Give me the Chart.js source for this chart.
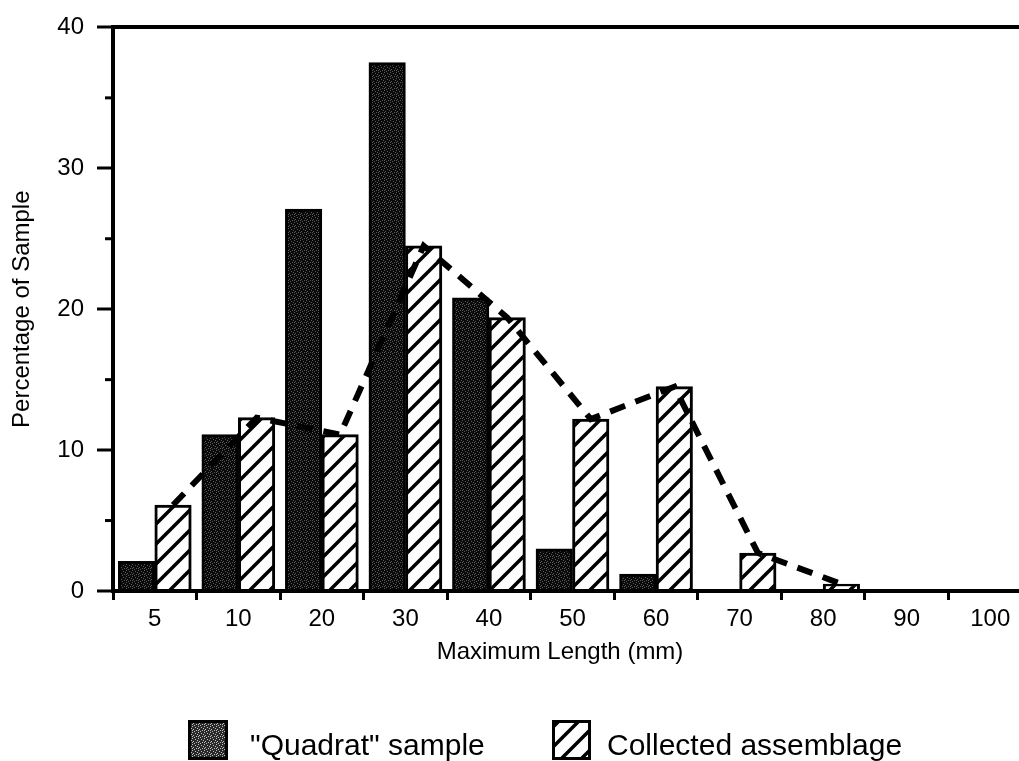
<!DOCTYPE html>
<html>
<head>
<meta charset="utf-8">
<script src="https://cdn.jsdelivr.net/npm/chart.js@4.4.1/dist/chart.umd.min.js"></script>
<style>
  html, body { margin: 0; padding: 0; background: #fff; overflow: hidden; }
  canvas { display: block; }
</style>
</head>
<body>
<canvas id="myChart" width="1034" height="761"></canvas>
<script>
// data (percent of sample per length class)
const lengths = ['5', '10', '20', '30', '40', '50', '60', '70', '80', '90', '100'];
const quadrat = [2.1, 11.1, 27.1, 37.5, 20.8, 3.0, 1.2, 0, 0, 0, 0];
const collected = [6.1, 12.3, 11.1, 24.5, 19.4, 12.2, 14.5, 2.7, 0.5, 0, 0];
const trend = [6.1, 12.3, 11.1, 24.5, 19.4, 12.2, 14.5, 2.7, 0.5, null, null];
const yMajor = [0, 10, 20, 30, 40];
const yMinor = [5, 15, 25, 35];

const FONT = "'Liberation Sans', Arial, Helvetica, sans-serif";
const catPct = 0.875;
const shift = catPct / 4; // centre of the right-hand bar, in category units
const barW = 36.5;

const canvas = document.getElementById('myChart');
const ctx = canvas.getContext('2d');

function stipple(base, dot) {
    const c = document.createElement('canvas');
    c.width = 6; c.height = 6;
    const g = c.getContext('2d');
    g.fillStyle = base;
    g.fillRect(0, 0, 6, 6);
    g.fillStyle = dot;
    [[0, 0], [3, 1], [1, 3], [4, 4], [2, 5], [5, 2], [0, 4]].forEach(function(p) {
        g.fillRect(p[0], p[1], 1, 1);
    });
    return ctx.createPattern(c, 'repeat');
}

function hatch() {
    const s = 20;
    const c = document.createElement('canvas');
    c.width = s; c.height = s;
    const g = c.getContext('2d');
    g.fillStyle = '#fff';
    g.fillRect(0, 0, s, s);
    g.strokeStyle = '#000';
    g.lineWidth = 3.5;
    g.beginPath();
    g.moveTo(-5, s + 5); g.lineTo(s + 5, -5);
    g.moveTo(-5, 5); g.lineTo(5, -5);
    g.moveTo(s - 5, s + 5); g.lineTo(s + 5, s - 5);
    g.stroke();
    return ctx.createPattern(c, 'repeat');
}

const darkFill = stipple('#0a0a0a', '#5a5a5a');
const legendDark = stipple('#2a2a2a', '#bdbdbd');
const hatchFill = hatch();

const extras = {
    id: 'extras',
    afterDraw: function(chart) {
        const c = chart.ctx;
        const y = chart.scales.y;
        c.save();
        // short minor ticks on the y axis
        c.strokeStyle = '#000';
        c.lineWidth = 3;
        yMinor.forEach(function(v) {
            const py = y.getPixelForValue(v);
            c.beginPath();
            c.moveTo(y.right - 8, py);
            c.lineTo(y.right, py);
            c.stroke();
        });

        // x axis title
        c.fillStyle = '#000';
        c.font = '24px ' + FONT;
        c.textAlign = 'center';
        c.textBaseline = 'alphabetic';
        c.fillText('Maximum Length (mm)', 560, 659);

        // legend
        c.textAlign = 'left';
        c.font = '30px ' + FONT;
        c.fillStyle = legendDark;
        c.fillRect(189, 721, 38, 38);
        c.strokeStyle = '#000';
        c.lineWidth = 3;
        c.strokeRect(189.5, 721.5, 37, 37);
        c.fillStyle = '#000';
        c.fillText('"Quadrat" sample', 250, 755);

        c.fillStyle = hatchFill;
        c.fillRect(553, 721, 37, 38);
        c.strokeRect(553.5, 721.5, 36, 37);
        c.fillStyle = '#000';
        c.fillText('Collected assemblage', 607, 755);
        c.restore();
    }
};

new Chart(ctx, {
    type: 'bar',
    data: {
        labels: lengths,
        datasets: [
            {
                type: 'line',
                label: 'trend',
                data: trend.map(function(v, i) { return { x: i, y: v }; }),
                xAxisID: 'xLine',
                borderColor: '#000',
                borderWidth: 6,
                borderDash: [16, 11],
                pointRadius: 0,
                tension: 0,
                fill: false,
                order: 0
            },
            {
                label: '"Quadrat" sample',
                data: quadrat,
                backgroundColor: darkFill,
                borderColor: '#000',
                borderWidth: 3,
                barThickness: barW,
                order: 1
            },
            {
                label: 'Collected assemblage',
                data: collected,
                backgroundColor: hatchFill,
                borderColor: '#000',
                borderWidth: 3,
                barThickness: barW,
                order: 1
            }
        ]
    },
    options: {
        responsive: false,
        animation: false,
        layout: { padding: { top: 21, right: 2, left: 0, bottom: 0 } },
        plugins: {
            legend: { display: false },
            tooltip: { enabled: false }
        },
        scales: {
            x: {
                type: 'category',
                offset: true,
                afterFit: function(s) { s.height = 170; },
                grid: {
                    offset: true,
                    drawOnChartArea: false,
                    tickLength: 9,
                    tickWidth: 3,
                    tickColor: '#000',
                    color: '#000'
                },
                border: { color: '#000', width: 4 },
                ticks: {
                    color: '#000',
                    font: { family: FONT, size: 24 },
                    padding: 5,
                    maxRotation: 0,
                    autoSkip: false
                }
            },
            xLine: {
                type: 'linear',
                display: false,
                offset: false,
                bounds: 'data',
                grid: { offset: false },
                min: -0.5 - shift,
                max: lengths.length - 0.5 - shift
            },
            y: {
                min: 0,
                max: 40,
                afterFit: function(s) { s.width = 113; },
                ticks: {
                    stepSize: 5,
                    color: '#000',
                    font: { family: FONT, size: 24 },
                    padding: 13,
                    callback: function(v) { return yMajor.includes(v) ? v : ''; }
                },
                grid: {
                    drawOnChartArea: true,
                    tickLength: 16,
                    lineWidth: 4,
                    tickWidth: 3,
                    color: function(c) { return c.tick && c.tick.value === 40 ? '#000' : 'rgba(0,0,0,0)'; },
                    tickColor: function(c) { return c.tick && yMajor.includes(c.tick.value) ? '#000' : 'rgba(0,0,0,0)'; }
                },
                border: { color: '#000', width: 4 },
                title: {
                    display: true,
                    text: 'Percentage of Sample',
                    color: '#000',
                    font: { family: FONT, size: 24 },
                    padding: { top: 8, bottom: 0 }
                }
            }
        }
    },
    plugins: [extras]
});
</script>
</body>
</html>
